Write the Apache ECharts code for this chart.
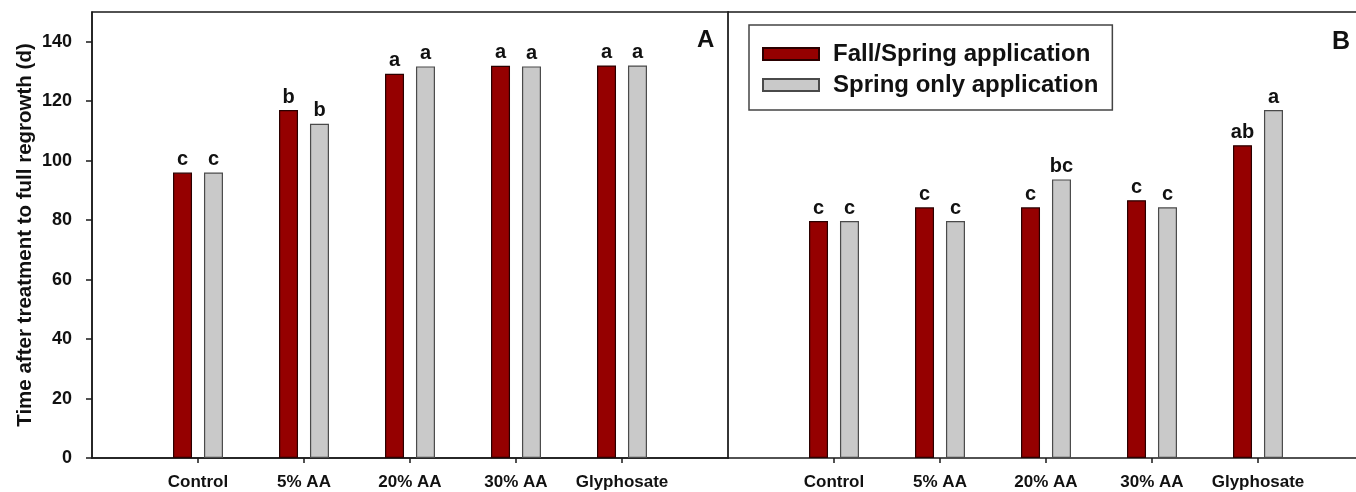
<!DOCTYPE html>
<html>
<head>
<meta charset="utf-8">
<script src="https://cdn.jsdelivr.net/npm/echarts@6/dist/echarts.min.js"></script>
<style>
html,body{margin:0;padding:0;background:#fff;}
#c{width:1356px;height:492px;}
</style>
</head>
<body>
<div id="c"></div>
<script>
const categories = ['Control', '5% AA', '20% AA', '30% AA', 'Glyphosate'];
const seriesNames = ['Fall/Spring application', 'Spring only application'];
const yTicks = [0, 20, 40, 60, 80, 100, 120, 140];

// Panel A
const panelA_fall = [96, 117, 129.2, 131.9, 132];
const panelA_spring = [96, 112.4, 131.7, 131.7, 132];
const panelA_fallLetters = ['c', 'b', 'a', 'a', 'a'];
const panelA_springLetters = ['c', 'b', 'a', 'a', 'a'];

// Panel B
const panelB_fall = [79.7, 84.3, 84.3, 86.7, 105.2];
const panelB_spring = [79.7, 79.7, 93.7, 84.3, 117];
const panelB_fallLetters = ['c', 'c', 'c', 'c', 'ab'];
const panelB_springLetters = ['c', 'c', 'bc', 'c', 'a'];

const FONT = '"Liberation Sans", Arial, Helvetica, sans-serif';
const positions = categories.map((c, i) => i + 1);

const chart = echarts.init(document.getElementById('c'), null, {renderer: 'canvas'});

function xAxisDef(gi, maxV) {
  return {
    type: 'value', gridIndex: gi, min: 0, max: maxV, interval: 1,
    axisLine: {show: true, onZero: false, lineStyle: {color: '#1a1a1a', width: 1.5}},
    axisTick: {show: true, length: 5, lineStyle: {color: '#1a1a1a', width: 1.5}, customValues: positions},
    axisLabel: {
      customValues: positions, margin: 16,
      formatter: v => categories[v - 1] || '',
      color: '#111', fontFamily: FONT, fontWeight: 'bold', fontSize: 17
    },
    splitLine: {show: false}
  };
}

function barSeries(name, gi, values, letters, color, border) {
  return {
    name: name, type: 'bar', xAxisIndex: gi, yAxisIndex: gi,
    data: values.map((v, i) => [positions[i], v]),
    barWidth: 19, barGap: '63%',
    itemStyle: {color: color, borderColor: border, borderWidth: 1.2},
    label: {
      show: true, position: 'top', distance: 3,
      formatter: p => letters[p.dataIndex],
      color: '#111', fontFamily: FONT, fontWeight: 'bold', fontSize: 20
    },
    emphasis: {disabled: true},
    animation: false
  };
}

const RED = '#950000', RED_B = '#2a0000';
const GRAY = '#c9c9c9', GRAY_B = '#4a4a4a';

chart.setOption({
  backgroundColor: '#fff',
  animation: false,
  textStyle: {fontFamily: FONT},
  grid: [
    {left: 92, top: 12, width: 636, bottom: 34, show: true, borderColor: '#1a1a1a', borderWidth: 1.5, backgroundColor: 'transparent'},
    {left: 728, top: 12, right: 0, bottom: 34, show: false}
  ],
  xAxis: [
    xAxisDef(0, 6),
    xAxisDef(1, 628 / 106),
    {
      type: 'value', gridIndex: 1, position: 'top', min: 0, max: 1,
      axisLine: {show: true, onZero: false, lineStyle: {color: '#1a1a1a', width: 1.5}},
      axisTick: {show: false}, axisLabel: {show: false}, splitLine: {show: false}
    }
  ],
  yAxis: [
    {
      type: 'value', gridIndex: 0, min: 0, max: 150, interval: 20,
      name: 'Time after treatment to full regrowth (d)',
      nameLocation: 'middle', nameGap: 56, nameRotate: 90,
      nameTextStyle: {color: '#111', fontFamily: FONT, fontWeight: 'bold', fontSize: 20.5},
      axisLine: {show: true, lineStyle: {color: '#1a1a1a', width: 1.5}},
      axisTick: {show: true, length: 6, lineStyle: {color: '#1a1a1a', width: 1.5}, customValues: yTicks},
      axisLabel: {customValues: yTicks, margin: 20, color: '#111', fontFamily: FONT, fontWeight: 'bold', fontSize: 18},
      splitLine: {show: false}
    },
    {
      type: 'value', gridIndex: 1, min: 0, max: 150, interval: 20,
      axisLine: {show: true, onZero: false, lineStyle: {color: '#333', width: 1.8}},
      axisTick: {show: false}, axisLabel: {show: false},
      splitLine: {show: false}
    }
  ],
  legend: {
    data: seriesNames,
    orient: 'vertical',
    left: 749, top: 25,
    itemWidth: 56, itemHeight: 12, itemGap: 7,
    padding: [17, 14, 13, 13],
    borderColor: '#444', borderWidth: 1.5,
    icon: 'rect',
    textStyle: {color: '#111', fontFamily: FONT, fontWeight: 'bold', fontSize: 24, padding: [0, 0, 0, 9]},
    selectedMode: false
  },
  graphic: [
    {type: 'text', left: 697, top: 28, style: {text: 'A', fill: '#111', font: 'bold 24px ' + FONT}},
    {type: 'text', left: 1332, top: 30, style: {text: 'B', fill: '#111', font: 'bold 25px ' + FONT}}
  ],
  series: [
    barSeries(seriesNames[0], 0, panelA_fall, panelA_fallLetters, RED, RED_B),
    barSeries(seriesNames[1], 0, panelA_spring, panelA_springLetters, GRAY, GRAY_B),
    barSeries(seriesNames[0], 1, panelB_fall, panelB_fallLetters, RED, RED_B),
    barSeries(seriesNames[1], 1, panelB_spring, panelB_springLetters, GRAY, GRAY_B)
  ]
});
</script>
</body>
</html>
